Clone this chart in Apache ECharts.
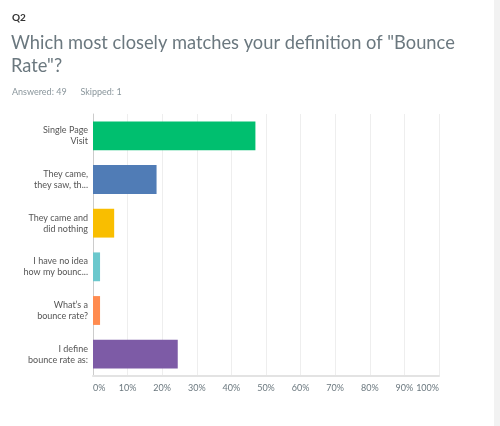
<!DOCTYPE html>
<html>
<head>
<meta charset="UTF-8" />
<title>Q2 Bounce Rate</title>
<script src="https://cdn.jsdelivr.net/npm/echarts@6/dist/echarts.min.js"></script>
<style>
  html, body { margin: 0; padding: 0; background: #fff; }
</style>
</head>
<body>
<div id="main" style="width: 500px;height:426px;"></div>
<script type="text/javascript">

    // answer choices (top to bottom)
    var categories = [
        'Single Page\nVisit',
        'They came,\nthey saw, th...',
        'They came and\ndid nothing',
        'I have no idea\nhow my bounc...',
        'What\u2019s a\nbounce rate?',
        'I define\nbounce rate as:'
    ];

    // percent of respondents
    var percents = [46.94, 18.37, 6.12, 2.04, 2.04, 24.49];

    var barColors = ['#00bf6f', '#507cb6', '#f9be00', '#6bc8cd', '#ff8b4f', '#7d5ba6'];

    var xTicks = [0, 10, 20, 30, 40, 50, 60, 70, 80, 90, 100];

    var chart = echarts.init(document.getElementById('main'));

    var option = {
        animation: false,
        backgroundColor: '#fff',
        graphic: [
            { type: 'text', left: 12, top: 13,
              style: { text: 'Q2', font: 'bold 10px Lato, sans-serif', fill: '#333' } },
            { type: 'text', left: 11, top: 32,
              style: { text: 'Which most closely matches your definition of "Bounce\nRate"?',
                       font: '18.3px Lato, sans-serif', fill: '#6b787f', lineHeight: 23 } },
            { type: 'text', left: 12, top: 88,
              style: { text: 'Answered: 49      Skipped: 1', font: '9px Lato, sans-serif', fill: '#8a969c' } },
            { type: 'rect', right: 0, top: 0, shape: { width: 6, height: 426 },
              style: { fill: '#f2f2f2' } }
        ],
        grid: { left: 93, right: 61, top: 114, bottom: 50 },
        xAxis: {
            type: 'value',
            min: 0,
            max: 100,
            interval: 10,
            axisLine: { show: true, lineStyle: { color: '#e3e3e3', width: 2 } },
            axisTick: { show: false },
            splitLine: { show: true, lineStyle: { color: '#eeeeee' } },
            axisLabel: {
                color: '#6b787f',
                fontSize: 9,
                fontFamily: 'Lato, sans-serif',
                margin: 8,
                alignMinLabel: 'left',
                alignMaxLabel: 'right',
                formatter: function (v) { return xTicks.indexOf(v) >= 0 ? v + '%' : ''; }
            }
        },
        yAxis: {
            type: 'category',
            inverse: true,
            data: categories,
            axisLine: { show: true, lineStyle: { color: '#cccccc' } },
            axisTick: { show: false },
            axisLabel: {
                color: '#555',
                fontSize: 9,
                fontFamily: 'Lato, sans-serif',
                lineHeight: 11,
                margin: 5,
                align: 'right'
            }
        },
        series: [{
            type: 'bar',
            barWidth: '66%',
            data: percents.map(function (v, i) {
                return { value: v, itemStyle: { color: barColors[i] } };
            })
        }]
    };

    chart.setOption(option);
</script>
</body>
</html>
